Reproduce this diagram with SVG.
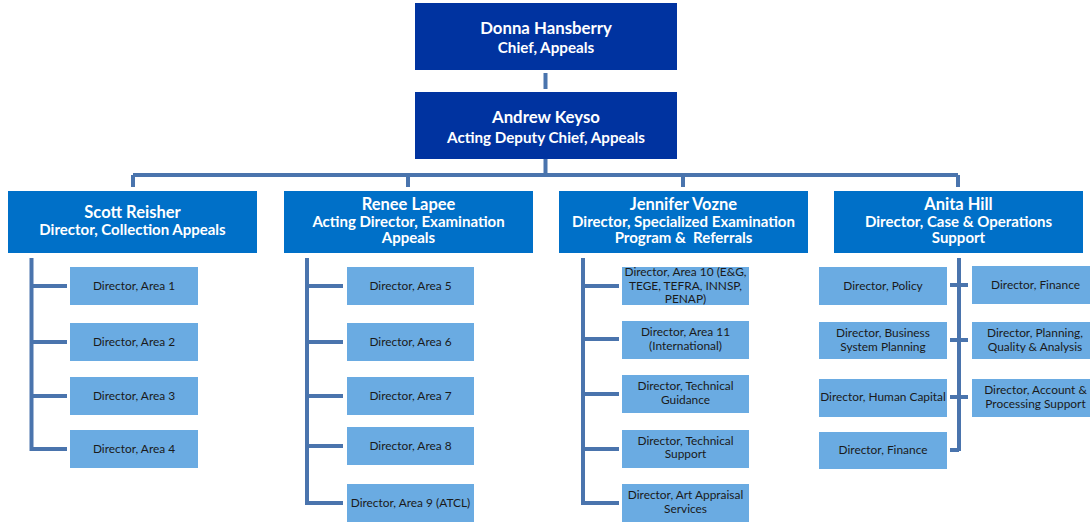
<svg xmlns="http://www.w3.org/2000/svg" width="1092" height="523" viewBox="0 0 1092 523">
<style>
.top{fill:#0033a0;}
.mid{fill:#0070c8;}
.leaf{fill:#6aabe2;}
.tw{font-family:Lato,"Liberation Sans",sans-serif;font-weight:bold;fill:#ffffff;text-anchor:middle;}
.n1{font-size:16.8px;}
.t1{font-size:15.2px;}
.n2{font-size:16.5px;}
.t2{font-size:15px;}
.tl{font-family:Lato,"Liberation Sans",sans-serif;font-size:11.9px;fill:#1a1a1a;text-anchor:middle;}
.c{stroke:#4a74ad;stroke-width:4;fill:none;}
</style>
<rect width="1092" height="523" fill="#ffffff"/>
<g id="connectors">
<path class="c" d="M545.5 73V89M545.5 159V177M133 175H958M133 175V187M408 175V187M683 175V187M958 175V187"/>
<path class="c" d="M31.5 258V451M31.5 286H67M31.5 342H67M31.5 396H67M31.5 449H67"/>
<path class="c" d="M307 258V505M307 286H343M307 342H343M307 396H343M307 446H343M307 503H343"/>
<path class="c" d="M583 258V505M583 286H619M583 339H619M583 394H619M583 449H619M583 503H619"/>
<path class="c" d="M959 258V451M950 285H968M950 340H968M950 397H968M950 450H959"/>
</g>
<g id="donna"><rect class="top" x="415" y="3" width="262" height="67"/>
<text class="tw n1" x="546" y="34">Donna Hansberry</text><text class="tw t1" x="546" y="53">Chief, Appeals</text></g>
<g id="andrew"><rect class="top" x="415" y="92" width="262" height="67"/>
<text class="tw n1" x="546" y="123">Andrew Keyso</text><text class="tw t1" x="546" y="143">Acting Deputy Chief, Appeals</text></g>
<g id="scott"><rect class="mid" x="8" y="191" width="249" height="62"/>
<text class="tw n2" x="132.5" y="218">Scott Reisher</text><text class="tw t2" x="132.5" y="235">Director, Collection Appeals</text></g>
<g id="renee"><rect class="mid" x="284" y="191" width="249" height="62"/>
<text class="tw n2" x="408.5" y="210">Renee Lapee</text><text class="tw t2" x="408.5" y="227">Acting Director, Examination</text><text class="tw t2" x="408.5" y="243">Appeals</text></g>
<g id="jennifer"><rect class="mid" x="559" y="191" width="249" height="62"/>
<text class="tw n2" x="683.5" y="210">Jennifer Vozne</text><text class="tw t2" x="683.5" y="227">Director, Specialized Examination</text><text class="tw t2" x="683.5" y="243">Program &amp;&#160; Referrals</text></g>
<g id="anita"><rect class="mid" x="834" y="191" width="249" height="62"/>
<text class="tw n2" x="958.5" y="210">Anita Hill</text><text class="tw t2" x="958.5" y="227">Director, Case &amp; Operations</text><text class="tw t2" x="958.5" y="243">Support</text></g>
<g id="area1"><rect class="leaf" x="70" y="267" width="128" height="38"/><text class="tl" x="134" y="290">Director, Area 1</text></g>
<g id="area2"><rect class="leaf" x="70" y="323" width="128" height="38"/><text class="tl" x="134" y="346">Director, Area 2</text></g>
<g id="area3"><rect class="leaf" x="70" y="377" width="128" height="38"/><text class="tl" x="134" y="400">Director, Area 3</text></g>
<g id="area4"><rect class="leaf" x="70" y="430" width="128" height="38"/><text class="tl" x="134" y="453">Director, Area 4</text></g>
<g id="area5"><rect class="leaf" x="347" y="267" width="127" height="38"/><text class="tl" x="410.5" y="290">Director, Area 5</text></g>
<g id="area6"><rect class="leaf" x="347" y="323" width="127" height="38"/><text class="tl" x="410.5" y="346">Director, Area 6</text></g>
<g id="area7"><rect class="leaf" x="347" y="377" width="127" height="38"/><text class="tl" x="410.5" y="400">Director, Area 7</text></g>
<g id="area8"><rect class="leaf" x="347" y="427" width="127" height="38"/><text class="tl" x="410.5" y="450">Director, Area 8</text></g>
<g id="area9"><rect class="leaf" x="347" y="484" width="127" height="38"/><text class="tl" x="410.5" y="507">Director, Area 9 (ATCL)</text></g>
<g id="area10"><rect class="leaf" x="622" y="267" width="127" height="38"/><text class="tl" x="685.5" y="276">Director, Area 10 (E&amp;G,</text><text class="tl" x="685.5" y="289.5">TEGE, TEFRA, INNSP,</text><text class="tl" x="685.5" y="303">PENAP)</text></g>
<g id="area11"><rect class="leaf" x="622" y="321" width="127" height="38"/><text class="tl" x="685.5" y="336">Director, Area 11</text><text class="tl" x="685.5" y="350">(International)</text></g>
<g id="techguid"><rect class="leaf" x="622" y="375" width="127" height="38"/><text class="tl" x="685.5" y="390">Director, Technical</text><text class="tl" x="685.5" y="404">Guidance</text></g>
<g id="techsup"><rect class="leaf" x="622" y="430" width="127" height="38"/><text class="tl" x="685.5" y="445">Director, Technical</text><text class="tl" x="685.5" y="458">Support</text></g>
<g id="art"><rect class="leaf" x="622" y="484" width="127" height="38"/><text class="tl" x="685.5" y="499">Director, Art Appraisal</text><text class="tl" x="685.5" y="513">Services</text></g>
<g id="policy"><rect class="leaf" x="819" y="267" width="128" height="38"/><text class="tl" x="883" y="290">Director, Policy</text></g>
<g id="bsp"><rect class="leaf" x="819" y="322" width="128" height="37"/><text class="tl" x="883" y="337">Director, Business</text><text class="tl" x="883" y="351">System Planning</text></g>
<g id="hc"><rect class="leaf" x="819" y="379" width="128" height="38"/><text class="tl" x="883" y="401">Director, Human Capital</text></g>
<g id="fin1"><rect class="leaf" x="819" y="432" width="128" height="37"/><text class="tl" x="883" y="454">Director, Finance</text></g>
<g id="fin2"><rect class="leaf" x="972" y="266" width="118" height="38"/><text class="tl" x="1035.5" y="289">Director, Finance</text></g>
<g id="pqa"><rect class="leaf" x="972" y="322" width="118" height="37"/><text class="tl" x="1035" y="337">Director, Planning,</text><text class="tl" x="1035" y="351">Quality &amp; Analysis</text></g>
<g id="aps"><rect class="leaf" x="972" y="379" width="118" height="38"/><text class="tl" x="1035.5" y="394">Director, Account &amp;</text><text class="tl" x="1035.5" y="408">Processing Support</text></g>
</svg>
